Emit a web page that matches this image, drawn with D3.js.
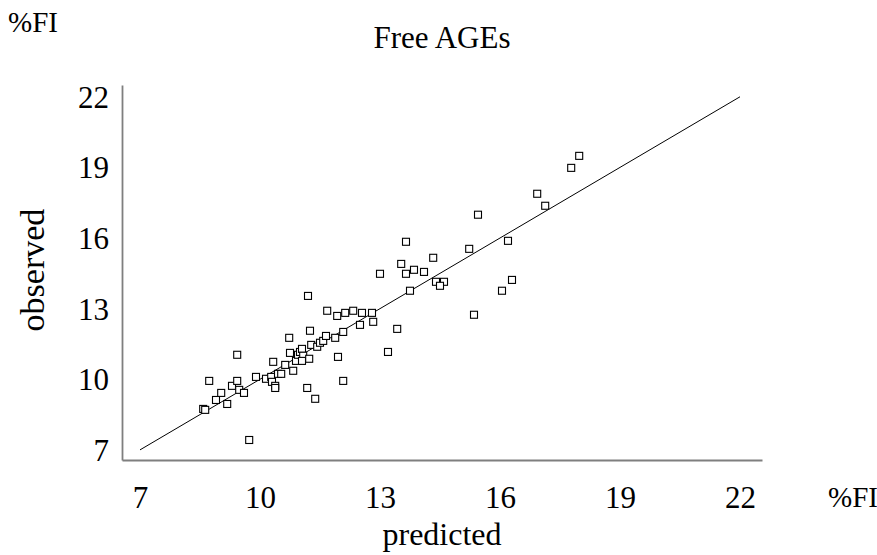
<!DOCTYPE html>
<html>
<head>
<meta charset="utf-8">
<script src="https://cdn.jsdelivr.net/npm/d3@7"></script>
<style>
html,body{margin:0;padding:0;background:#fff;}
svg text{font-family:"Liberation Serif","Times New Roman",serif;fill:#000;}
</style>
</head>
<body>
<svg id="chart" width="877" height="555"></svg>
<script>
const title = "Free AGEs";
const xLabel = "predicted";
const yLabel = "observed";
const unitLabel = "%FI";
const tickValues = [7, 10, 13, 16, 19, 22];
const identityLine = [7, 22];
const predicted = [8.58,8.63,8.90,9.18,8.73,9.03,9.30,9.43,9.48,9.60,9.43,9.73,9.90,10.15,10.28,10.30,10.38,10.38,10.45,10.53,10.33,10.63,10.75,10.83,10.90,10.95,11.00,11.05,11.08,11.05,11.23,11.28,11.43,11.50,11.58,11.65,11.88,10.73,11.25,12.08,11.68,11.93,12.13,12.33,12.55,12.80,12.50,12.83,13.43,11.95,12.08,11.18,11.38,13.20,11.20,13.00,13.65,13.85,14.10,13.53,13.65,14.33,13.75,14.40,14.60,14.50,15.23,15.45,16.20,16.30,16.05,15.35,16.93,17.13,17.78,17.98];
const observed = [8.74,8.70,9.12,8.95,9.93,9.42,9.72,9.93,9.55,9.42,11.04,7.42,10.10,10.02,10.10,9.89,9.72,9.63,10.23,10.23,10.74,10.61,11.12,10.36,10.78,11.04,11.16,11.29,11.00,10.78,10.87,11.46,11.38,11.55,11.63,11.84,11.76,11.76,12.06,12.01,12.91,12.69,12.82,12.91,12.82,12.82,12.31,12.44,12.14,10.95,9.93,9.63,9.17,11.16,13.54,14.48,14.48,14.65,14.56,14.90,15.84,15.16,13.76,14.14,14.14,13.97,15.54,16.99,15.88,14.22,13.76,12.74,17.88,17.37,18.98,19.49];

const svg = d3.select("#chart");
const x = d3.scaleLinear().domain([6.55, 22.55]).range([122, 762]);
const y = d3.scaleLinear().domain([6.57, 22.5]).range([460, 85]);

const xAxis = d3.axisBottom(x).tickValues(tickValues).tickSize(0).tickPadding(0).tickFormat(d3.format("d"));
const yAxis = d3.axisLeft(y).tickValues(tickValues).tickSize(0).tickPadding(0).tickFormat(d3.format("d"));

const gx = svg.append("g").attr("transform", "translate(0,460)").call(xAxis);
gx.select(".domain").attr("stroke", "#7f7f7f").attr("stroke-width", 1.8);
gx.selectAll("text").attr("font-size", 31).attr("dy", 0).attr("y", 48)
  .attr("font-family", "Liberation Serif, serif").attr("fill", "#000");

const gy = svg.append("g").attr("transform", "translate(122,0)").call(yAxis);
gy.select(".domain").attr("stroke", "#7f7f7f").attr("stroke-width", 1.8);
gy.selectAll("text").attr("font-size", 31).attr("x", -13).attr("dy", "0.34em")
  .attr("font-family", "Liberation Serif, serif").attr("fill", "#000");

svg.append("line")
  .attr("x1", x(identityLine[0])).attr("y1", y(identityLine[0]))
  .attr("x2", x(identityLine[1])).attr("y2", y(identityLine[1]))
  .attr("stroke", "#000").attr("stroke-width", 1);

const pts = predicted.map((p, i) => ({p, o: observed[i]}));
svg.append("g").selectAll("rect").data(pts).join("rect")
  .attr("x", d => x(d.p) - 3.5).attr("y", d => y(d.o) - 3.5)
  .attr("width", 7).attr("height", 7)
  .attr("fill", "#fff").attr("stroke", "#000").attr("stroke-width", 1.1);

svg.append("text").attr("x", 442).attr("y", 48).attr("text-anchor", "middle")
  .attr("font-size", 31).text(title);
svg.append("text").attr("x", 8).attr("y", 32).attr("font-size", 29).text(unitLabel);
svg.append("text").attr("x", 828).attr("y", 507).attr("font-size", 29).text(unitLabel);
svg.append("text").attr("x", 442).attr("y", 545).attr("text-anchor", "middle")
  .attr("font-size", 32).text(xLabel);
svg.append("text").attr("transform", "translate(44,270) rotate(-90)")
  .attr("text-anchor", "middle").attr("font-size", 34).text(yLabel);
</script>
</body>
</html>
